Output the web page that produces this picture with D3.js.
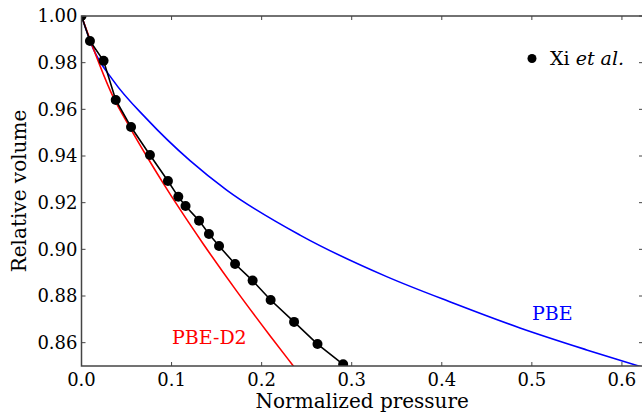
<!DOCTYPE html>
<html>
<head>
<meta charset="utf-8">
<script src="https://d3js.org/d3.v7.min.js"></script>
<style>
  body { margin: 0; background: #fff; }
  svg text { font-family: 'DejaVu Serif', 'Liberation Serif', 'Times New Roman', Times, 'Noto Serif', FreeSerif, serif; }
</style>
</head>
<body>
<div id="chart"></div>
<script>
// Xi et al. measured points (normalized pressure, relative volume)
const xiPressure = [0.0, 0.0094, 0.0245, 0.0380, 0.0550, 0.0760, 0.0960, 0.1075, 0.1155, 0.1305, 0.1415, 0.1527, 0.1705, 0.1900, 0.2100, 0.2360, 0.2620, 0.2905];
const xiVolume   = [1.000, 0.9893, 0.9808, 0.9640, 0.9524, 0.9404, 0.9293, 0.9225, 0.9186, 0.9123, 0.9066, 0.9014, 0.8937, 0.8866, 0.8783, 0.8689, 0.8594, 0.8507];

// PBE curve
const pbePressure = [0.0, 0.0131, 0.0353, 0.0724, 0.1205, 0.1612, 0.2426, 0.3388, 0.4125, 0.4868, 0.5609, 0.6212, 0.6500];
const pbeVolume   = [1.000, 0.9859, 0.9723, 0.9559, 0.9380, 0.9254, 0.9061, 0.8883, 0.8770, 0.8663, 0.8569, 0.8497, 0.8462];

// PBE-D2 curve
const d2Pressure = [0.0, 0.0353, 0.0538, 0.0724, 0.0908, 0.1094, 0.1352, 0.1723, 0.2093, 0.2352, 0.2500];
const d2Volume   = [1.000, 0.9652, 0.9522, 0.9399, 0.9283, 0.9171, 0.9023, 0.8821, 0.8630, 0.8500, 0.8426];

const xTicks = [0.0, 0.1, 0.2, 0.3, 0.4, 0.5, 0.6];
const yTicks = [0.86, 0.88, 0.90, 0.92, 0.94, 0.96, 0.98, 1.00];

const width = 642, height = 416;
const margin = { top: 16, right: -1, bottom: 50, left: 81.5 };

const svg = d3.select('#chart').append('svg')
    .attr('width', width)
    .attr('height', height);

const x = d3.scaleLinear()
    .domain([0, 0.6234])
    .range([margin.left, width - margin.right]);

const y = d3.scaleLinear()
    .domain([0.85, 1.0])
    .range([height - margin.bottom, margin.top]);

svg.append('clipPath').attr('id', 'plot-clip')
    .append('rect')
    .attr('x', margin.left).attr('y', margin.top)
    .attr('width', x.range()[1] - margin.left)
    .attr('height', y.range()[0] - margin.top);

const plot = svg.append('g').attr('clip-path', 'url(#plot-clip)');

const toPts = (xs, ys) => xs.map((v, i) => [v, ys[i]]);
const line = d3.line().x(d => x(d[0])).y(d => y(d[1]));
const smooth = d3.line().x(d => x(d[0])).y(d => y(d[1])).curve(d3.curveMonotoneX);

plot.append('path')
    .datum(toPts(pbePressure, pbeVolume))
    .attr('fill', 'none').attr('stroke', '#0000ff').attr('stroke-width', 1.6)
    .attr('d', smooth);

plot.append('path')
    .datum(toPts(d2Pressure, d2Volume))
    .attr('fill', 'none').attr('stroke', '#ff0000').attr('stroke-width', 1.6)
    .attr('d', smooth);

const xiPts = toPts(xiPressure, xiVolume);
plot.append('path')
    .datum(xiPts)
    .attr('fill', 'none').attr('stroke', '#000').attr('stroke-width', 1.6)
    .attr('d', line);

plot.selectAll('circle.xi')
    .data(xiPts)
    .enter().append('circle')
    .attr('class', 'xi')
    .attr('cx', d => x(d[0]))
    .attr('cy', d => y(d[1]))
    .attr('r', 5)
    .attr('fill', '#000');

// frame with inward ticks on all four sides
const frame = svg.append('g');
const x0 = x.range()[0], x1 = x.range()[1], y0 = y.range()[0], y1 = y.range()[1];
frame.append('rect')
    .attr('x', x0).attr('y', y1)
    .attr('width', x1 - x0).attr('height', y0 - y1)
    .attr('fill', 'none').attr('stroke', '#444').attr('stroke-width', 1.5);

const tickLen = 4;
xTicks.forEach(t => {
    frame.append('line').attr('x1', x(t)).attr('x2', x(t)).attr('y1', y0).attr('y2', y0 - tickLen)
        .attr('stroke', '#444').attr('stroke-width', 1);
    frame.append('line').attr('x1', x(t)).attr('x2', x(t)).attr('y1', y1).attr('y2', y1 + tickLen)
        .attr('stroke', '#444').attr('stroke-width', 1);
    svg.append('text')
        .attr('x', x(t)).attr('y', y0 + 20)
        .attr('text-anchor', 'middle')
        .attr('font-size', 18).attr('fill', '#000')
        .text(d3.format('.1f')(t));
});
yTicks.forEach(t => {
    frame.append('line').attr('x1', x0).attr('x2', x0 + tickLen).attr('y1', y(t)).attr('y2', y(t))
        .attr('stroke', '#444').attr('stroke-width', 1);
    frame.append('line').attr('x1', x1).attr('x2', x1 - tickLen).attr('y1', y(t)).attr('y2', y(t))
        .attr('stroke', '#444').attr('stroke-width', 1);
    svg.append('text')
        .attr('x', x0 - 4).attr('y', y(t)).attr('dy', '0.36em')
        .attr('text-anchor', 'end')
        .attr('font-size', 18).attr('fill', '#000')
        .text(d3.format('.2f')(t));
});

// axis titles
svg.append('text')
    .attr('x', (x0 + x1) / 2).attr('y', 408)
    .attr('text-anchor', 'middle')
    .attr('font-size', 20)
    .text('Normalized pressure');

svg.append('text')
    .attr('transform', `translate(26,${(y0 + y1) / 2}) rotate(-90)`)
    .attr('text-anchor', 'middle')
    .attr('font-size', 20)
    .text('Relative volume');

// curve labels
svg.append('text')
    .attr('x', 172).attr('y', 344)
    .attr('font-size', 19).attr('fill', '#ff0000')
    .text('PBE-D2');

svg.append('text')
    .attr('x', 532).attr('y', 320)
    .attr('font-size', 19).attr('fill', '#0000ff')
    .text('PBE');

// legend
const legend = svg.append('g');
legend.append('circle').attr('cx', 532).attr('cy', 58.5).attr('r', 4.5).attr('fill', '#000');
const lt = legend.append('text').attr('x', 550).attr('y', 64.5).attr('font-size', 19);
lt.append('tspan').text('Xi ');
lt.append('tspan').attr('font-style', 'italic').text('et al.');
</script>
</body>
</html>
